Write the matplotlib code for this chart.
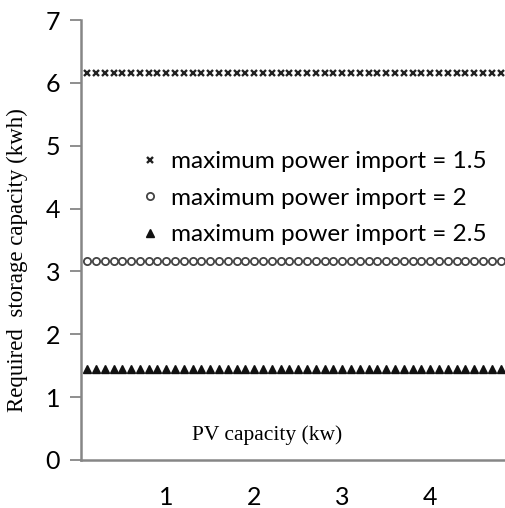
import matplotlib.pyplot as plt
import numpy as np

# PV capacity steps (kW) and required storage for each import limit
pv_capacity = np.round(np.arange(0.1, 4.85, 0.1), 1)
storage_import_15 = [6.15] * len(pv_capacity)
storage_import_2 = [3.16] * len(pv_capacity)
storage_import_25 = [1.44] * len(pv_capacity)

series_labels = ['maximum power import = 1.5',
                 'maximum power import = 2',
                 'maximum power import = 2.5']
x_ticks = [1, 2, 3, 4]
y_ticks = [0, 1, 2, 3, 4, 5, 6, 7]

fig = plt.figure(figsize=(5.06, 5.08), dpi=100)
ax = fig.add_axes([0.160, 0.0945, 0.838, 0.866])

ax.plot(pv_capacity, storage_import_15, 'x', color='#222222', ms=4, mew=1.7,
        linestyle='none', label=series_labels[0])
ax.plot(pv_capacity, storage_import_2, 'o', mfc='white', mec='#444444', ms=5.2,
        mew=1.3, linestyle='none', label=series_labels[1])
ax.plot(pv_capacity, storage_import_25, '^', color='#111111', ms=5.5,
        linestyle='none', label=series_labels[2])

ax.set_xlim(0.03, 4.85)
ax.set_ylim(0, 7)
ax.set_yticks(y_ticks)
ax.set_xticks(x_ticks)

tick_font = 'Lato'
for lab in ax.get_yticklabels() + ax.get_xticklabels():
    lab.set_family(tick_font)
    lab.set_fontsize(18)

ax.tick_params(axis='y', length=8, width=1.3, color='#868686', pad=7)
ax.tick_params(axis='x', length=0, pad=19)

for side in ['top', 'right']:
    ax.spines[side].set_visible(False)
for side in ['left', 'bottom']:
    ax.spines[side].set_color('#868686')
    ax.spines[side].set_linewidth(1.8)

ax.set_ylabel('Required  storage capacity (kwh)', family='Liberation Serif',
              fontsize=16.5)
ax.yaxis.set_label_coords(-0.124, 0.455)
ax.text(0.439, 0.057, 'PV capacity (kw)', transform=ax.transAxes,
        family='Liberation Serif', fontsize=15.5, ha='center', va='center')

ax.legend(loc='upper left', bbox_to_anchor=(0.116, 0.729), frameon=False,
          prop={'family': 'Lato', 'size': 17.5}, handlelength=0.6,
          handletextpad=0.6, labelspacing=0.63, borderpad=0)

fig.savefig('out.png', dpi=100)
